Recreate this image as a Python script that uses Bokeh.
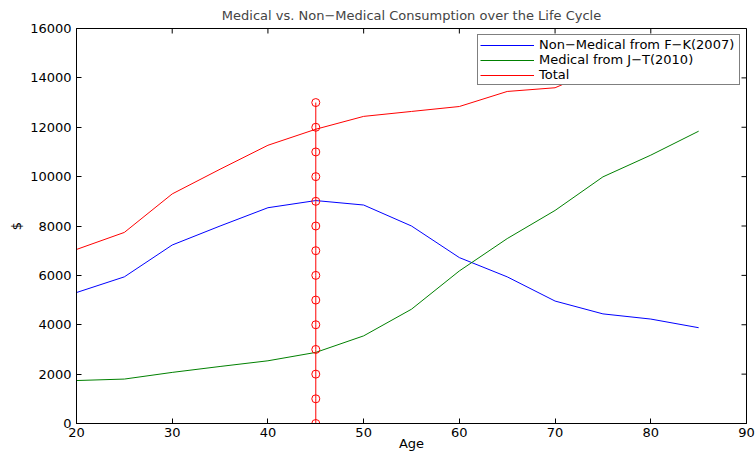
import math
from bokeh.plotting import figure
from bokeh.models import Range1d, FixedTicker, Legend, LegendItem
from bokeh.embed import file_html
from bokeh.resources import INLINE

# ---- data ----
age = [20, 25, 30, 35, 40, 45, 50, 55, 60, 65, 70, 75, 80, 85]
non_medical = [5305, 5940, 7230, 8000, 8740, 9030, 8850, 8000, 6720, 5940, 4960, 4440, 4230, 3880]
medical = [1740, 1800, 2070, 2310, 2540, 2880, 3550, 4630, 6180, 7490, 8630, 9990, 10870, 11840]
total = [7050, 7740, 9300, 10300, 11270, 11920, 12440, 12640, 12840, 13450, 13600, 14440, 15100, 15720]
marker_age = 45
marker_levels = [0, 1000, 2000, 3000, 4000, 5000, 6000, 7000, 8000, 9000, 10000, 11000, 12000, 13000]
x_ticks = [20, 30, 40, 50, 60, 70, 80, 90]
y_ticks = [0, 2000, 4000, 6000, 8000, 10000, 12000, 14000, 16000]
x_min, x_max = 20, 90
y_min, y_max = 0, 16000

FONT = "DejaVu Sans"
FS = "13px"

p = figure(width=755, height=453, output_backend="svg", toolbar_location=None,
           x_range=Range1d(x_min, x_max), y_range=Range1d(y_min, y_max),
           title="Medical vs. Non\u2212Medical Consumption over the Life Cycle",
           min_border_left=76, min_border_right=9, min_border_top=27, min_border_bottom=30)
p.grid.visible = False
p.outline_line_color = "black"
p.outline_line_width = 1
p.background_fill_color = "white"
p.border_fill_color = "white"

p.title.text_font = FONT
p.title.text_font_size = FS
p.title.text_font_style = "normal"
p.title.align = "center"
p.title.standoff = 11
p.title.offset = 0

def style_axis(ax):
    ax.axis_line_color = "black"
    ax.major_tick_line_color = "black"
    ax.major_tick_in = 5
    ax.major_tick_out = 0
    ax.minor_tick_line_color = None
    ax.major_label_text_font = FONT
    ax.major_label_text_font_size = FS
    ax.major_label_text_color = "black"
    ax.axis_label_text_font = FONT
    ax.axis_label_text_font_size = FS
    ax.axis_label_text_font_style = "normal"
    ax.axis_label_text_color = "black"

xa = p.xaxis[0]
xa.ticker = FixedTicker(ticks=x_ticks)
xa.axis_label = "Age"
style_axis(xa)
xa.major_label_standoff = 4
xa.axis_label_standoff = -4

ya = p.yaxis[0]
ya.ticker = FixedTicker(ticks=y_ticks)
ya.axis_label = "$"
style_axis(ya)
ya.major_label_standoff = 5
ya.axis_label_standoff = 3

# inward ticks on top and right edges (clipped half-dashes on the frame edge)
p.scatter(x_ticks, [y_max] * len(x_ticks), marker="dash", size=10, angle=math.pi / 2,
          line_color="black", line_width=1)
p.scatter([x_max] * len(y_ticks), y_ticks, marker="dash", size=10,
          line_color="black", line_width=1)

r_nm = p.line(age, non_medical, line_color="#0000ff", line_width=1)
r_md = p.line(age, medical, line_color="#008000", line_width=1)
r_tot = p.line(age, total, line_color="#ff0000", line_width=1)

p.line([marker_age] * len(marker_levels), marker_levels, line_color="#ff0000", line_width=1)
p.scatter([marker_age] * len(marker_levels), marker_levels, marker="circle", size=8,
          fill_color=None, line_color="#ff0000", line_width=1)

legend = Legend(items=[
    LegendItem(label="Non\u2212Medical from F\u2212K(2007)", renderers=[r_nm]),
    LegendItem(label="Medical from J\u2212T(2010)", renderers=[r_md]),
    LegendItem(label="Total", renderers=[r_tot]),
], location="top_right")
legend.label_text_font = FONT
legend.label_text_font_size = FS
legend.label_text_color = "black"
legend.border_line_color = "black"
legend.border_line_width = 1
legend.background_fill_color = "white"
legend.background_fill_alpha = 1
legend.glyph_width = 54
legend.glyph_height = 14
legend.label_height = 14
legend.label_width = 198
legend.label_standoff = 5
legend.spacing = 0
legend.padding = 2
legend.margin = 6
p.add_layout(legend, "center")

open("out.html", "w").write(file_html(p, INLINE))
